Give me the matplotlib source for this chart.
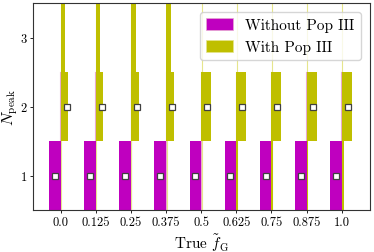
import numpy as np
import matplotlib
matplotlib.use("Agg")
from matplotlib import pyplot as plt
from matplotlib.patches import Patch

# Data
fg_labels = ["0.0", "0.125", "0.25", "0.375", "0.5", "0.625", "0.75", "0.875", "1.0"]
# relative violin half-widths at each N_peak level
without_n1 = [1.0, 1.0, 1.0, 1.0, 1.0, 1.0, 1.0, 1.0, 1.0]
with_n1 = [0.0, 0.0, 0.0, 0.0, 0.0, 0.15, 0.15, 0.15, 0.15]
with_n2 = [0.66, 0.66, 0.66, 0.66, 0.88, 0.86, 0.80, 0.86, 0.86]
with_n3 = [0.40, 0.40, 0.40, 0.40, 0.0, 0.0, 0.0, 0.0, 0.0]
median_without = [1, 1, 1, 1, 1, 1, 1, 1, 1]
median_with = [2, 2, 2, 2, 2, 2, 2, 2, 2]

maxw = 0.33   # half-width in category units
col_wo = "m"
col_w = "y"

plt.rcParams["font.family"] = "serif"
plt.rcParams["font.serif"] = ["cmr10", "DejaVu Serif"]
plt.rcParams["mathtext.fontset"] = "cm"
plt.rcParams["axes.formatter.use_mathtext"] = True

fig = plt.figure(figsize=(3.74, 2.53), dpi=100)
ax = fig.add_axes([0.088, 0.166, 0.901, 0.818])

xs = np.arange(len(fg_labels))
for i in xs:
    # thin tails of the violins
    ax.plot([i - 0.012, i - 0.012], [0.5, 2.5], color="#e8a8d0", lw=0.8, zorder=1)
    ax.plot([i + 0.012, i + 0.012], [0.5, 3.7], color="#e6e68c", lw=0.8, zorder=1)

    # without Pop III (left half)
    w = without_n1[i]*maxw
    ax.bar(i - w, 1.0, width=w, bottom=0.5, align="edge", color=col_wo, lw=0, zorder=2)

    # with Pop III (right half)
    for level, vals in [(1, with_n1), (2, with_n2), (3, with_n3)]:
        w = vals[i]*maxw
        if w <= 0:
            continue
        top = 1.0 if level < 3 else 1.5
        ax.bar(i, top, width=w, bottom=level - 0.5, align="edge", color=col_w, lw=0, zorder=2)

ax.plot(xs - 0.17, median_without, "s", ms=4, mfc="white", mec="#404040", mew=0.9, zorder=3, ls="none")
ax.plot(xs + 0.17, median_with, "s", ms=4, mfc="white", mec="#404040", mew=0.9, zorder=3, ls="none")

ax.set_xlim(-0.79, 8.8)
ax.set_ylim(0.5, 3.5)
ax.set_xticks(xs)
ax.set_xticklabels(fg_labels, fontsize=9)
ax.set_yticks([1, 2, 3])
ax.set_yticklabels(["1", "2", "3"], fontsize=9)
ax.tick_params(length=2.5, width=0.6, pad=2)
for s in ax.spines.values():
    s.set_linewidth(0.8)
    s.set_color("#333333")

ax.set_xlabel(r"True $\tilde{f}_{\rm G}$", fontsize=11, labelpad=2)
ax.set_ylabel(r"$N_{\rm peak}$", fontsize=11.5)
ax.yaxis.set_label_coords(-0.037, 0.5)

handles = [Patch(facecolor=col_wo, edgecolor="#e8a8d0", lw=0.5, label="Without Pop III"),
           Patch(facecolor=col_w, edgecolor="#e6e68c", lw=0.5, label="With Pop III")]
ax.legend(handles=handles, loc="upper right", fontsize=11, framealpha=0.8,
          borderaxespad=0.6, handlelength=1.8, handleheight=0.8)

fig.savefig("out.png", dpi=100)
